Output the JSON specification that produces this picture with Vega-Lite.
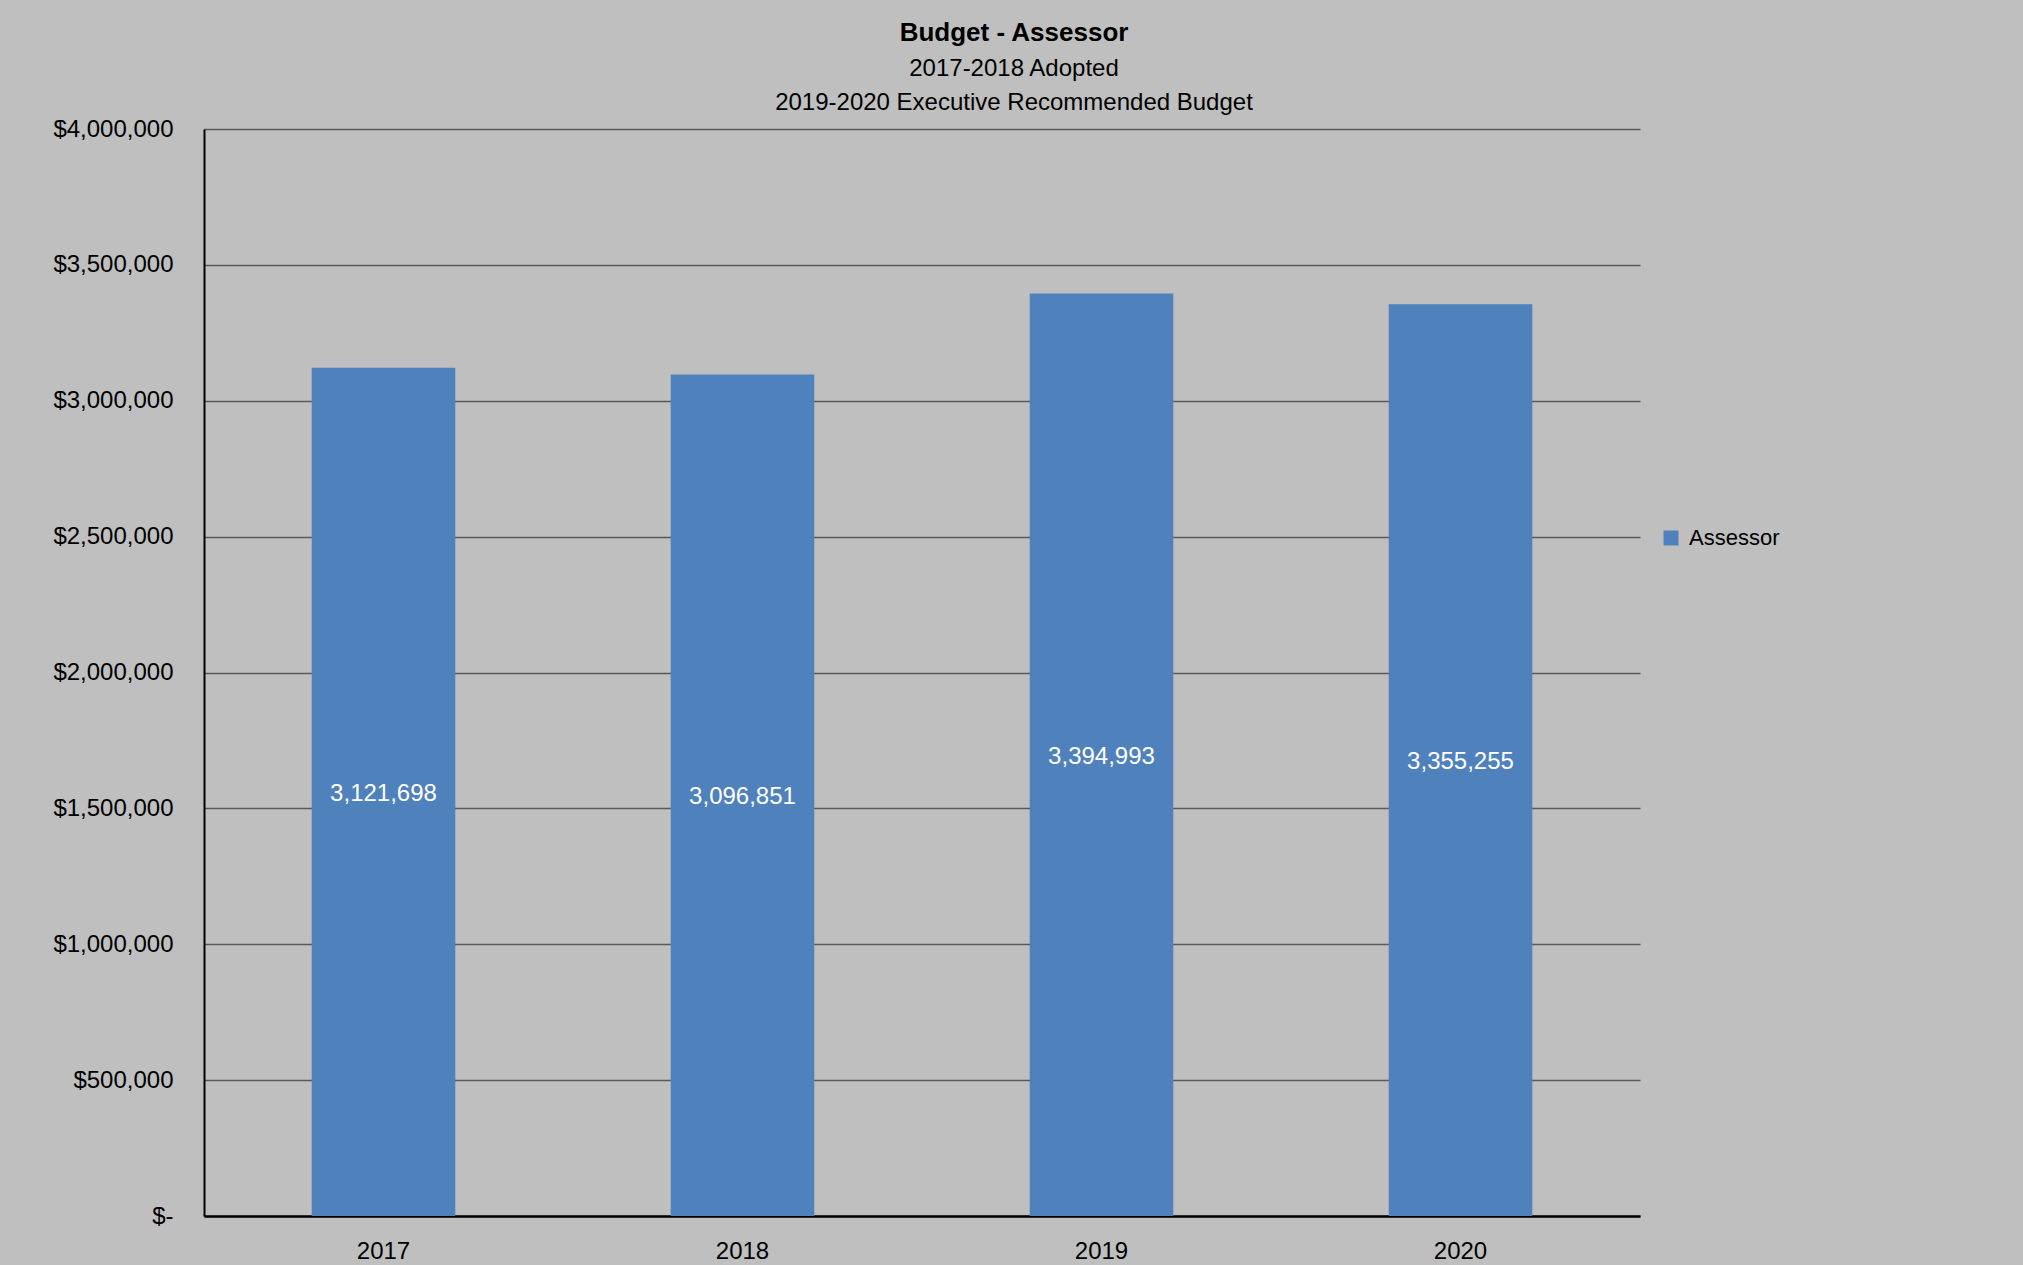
{
  "$schema": "https://vega.github.io/schema/vega-lite/v6.json",
  "autosize": {"type": "none"},
  "width": 1436,
  "height": 1087,
  "padding": {"left": 204, "top": 129, "right": 383, "bottom": 49},
  "background": "#BFBFBF",
  "config": {
    "font": "Liberation Sans",
    "view": {"stroke": null},
    "axis": {"labelFont": "Liberation Sans", "labelColor": "#000000", "labelFontSize": 24}
  },
  "title": {
    "text": "Budget - Assessor",
    "subtitle": ["2017-2018 Adopted", "2019-2020 Executive Recommended Budget"],
    "anchor": "middle",
    "frame": "group",
    "dx": 92,
    "offset": 2,
    "fontSize": 26,
    "fontWeight": "bold",
    "color": "#000000",
    "subtitleFontSize": 24,
    "subtitleColor": "#000000",
    "subtitleLineHeight": 34,
    "subtitlePadding": 11
  },
  "data": {
    "values": [
      {"year": "2017", "value": 3121698, "series": "Assessor"},
      {"year": "2018", "value": 3096851, "series": "Assessor"},
      {"year": "2019", "value": 3394993, "series": "Assessor"},
      {"year": "2020", "value": 3355255, "series": "Assessor"}
    ]
  },
  "encoding": {
    "x": {
      "field": "year",
      "type": "nominal",
      "scale": {"paddingInner": 0.6, "paddingOuter": 0.3},
      "axis": {
        "title": null,
        "labelAngle": 0,
        "ticks": false,
        "domainColor": "#000000",
        "domainWidth": 2.5,
        "labelPadding": 23,
        "labelFontSize": 24
      }
    }
  },
  "layer": [
    {
      "mark": {"type": "bar", "color": "#4F81BD"},
      "encoding": {
        "y": {
          "field": "value",
          "type": "quantitative",
          "scale": {"domain": [0, 4000000], "nice": false},
          "axis": {
            "title": null,
            "values": [0, 500000, 1000000, 1500000, 2000000, 2500000, 3000000, 3500000, 4000000],
            "labelExpr": "datum.value == 0 ? '$-' : '$' + format(datum.value, ',')",
            "ticks": false,
            "grid": true,
            "gridColor": "#595959",
            "gridWidth": 1.5,
            "domainColor": "#000000",
            "domainWidth": 2,
            "labelPadding": 31,
            "labelFontSize": 24
          }
        },
        "color": {
          "field": "series",
          "type": "nominal",
          "scale": {"range": ["#4F81BD"]},
          "legend": {
            "title": null,
            "orient": "none",
            "legendX": 1456,
            "legendY": 398,
            "symbolType": "square",
            "symbolSize": 225,
            "symbolStrokeWidth": 0,
            "labelFontSize": 22,
            "labelColor": "#000000",
            "labelOffset": 7
          }
        }
      }
    },
    {
      "mark": {"type": "text", "color": "#FFFFFF", "fontSize": 24, "align": "center", "baseline": "middle", "dy": 2},
      "encoding": {
        "y": {
          "field": "value",
          "type": "quantitative",
          "scale": {"domain": [0, 8000000], "nice": false},
          "axis": null
        },
        "text": {"field": "value", "type": "quantitative", "format": ","}
      }
    }
  ],
  "resolve": {"scale": {"y": "independent"}}
}
